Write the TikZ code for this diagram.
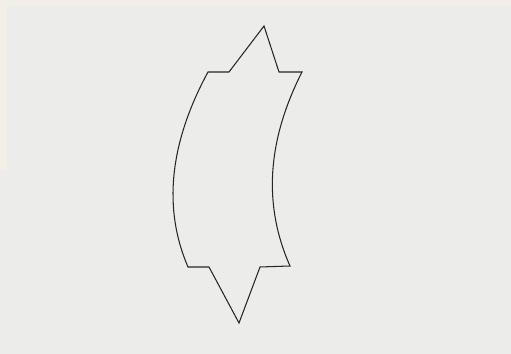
\documentclass[tikz,border=0pt]{standalone}
\usepackage{xcolor}
\definecolor{paper}{RGB}{236,236,234}
\definecolor{cream}{RGB}{241,239,231}

\begin{document}
\begin{tikzpicture}[
    x=0.02cm, y=-0.02cm,
    arrow outline/.style={draw=black!85, line width=0.6pt, line join=miter}
]
    % Paper
    \fill[paper] (0,0) rectangle (511,354);
    \fill[cream] (0,0) rectangle (511,6);
    \fill[cream] (0,0) rectangle (7,170);
    \useasboundingbox (0,0) rectangle (511,354);

    % Curved double arrow
    \draw[arrow outline] (264,26) -- (229,72) -- (208,72)
        .. controls (169,144) and (163,209) .. (188,267) -- (209,267)
        -- (239,323) -- (260,267) -- (290,266)
        .. controls (263,205) and (267,141) .. (302,72) -- (279,72) -- cycle;
\end{tikzpicture}
\end{document}
